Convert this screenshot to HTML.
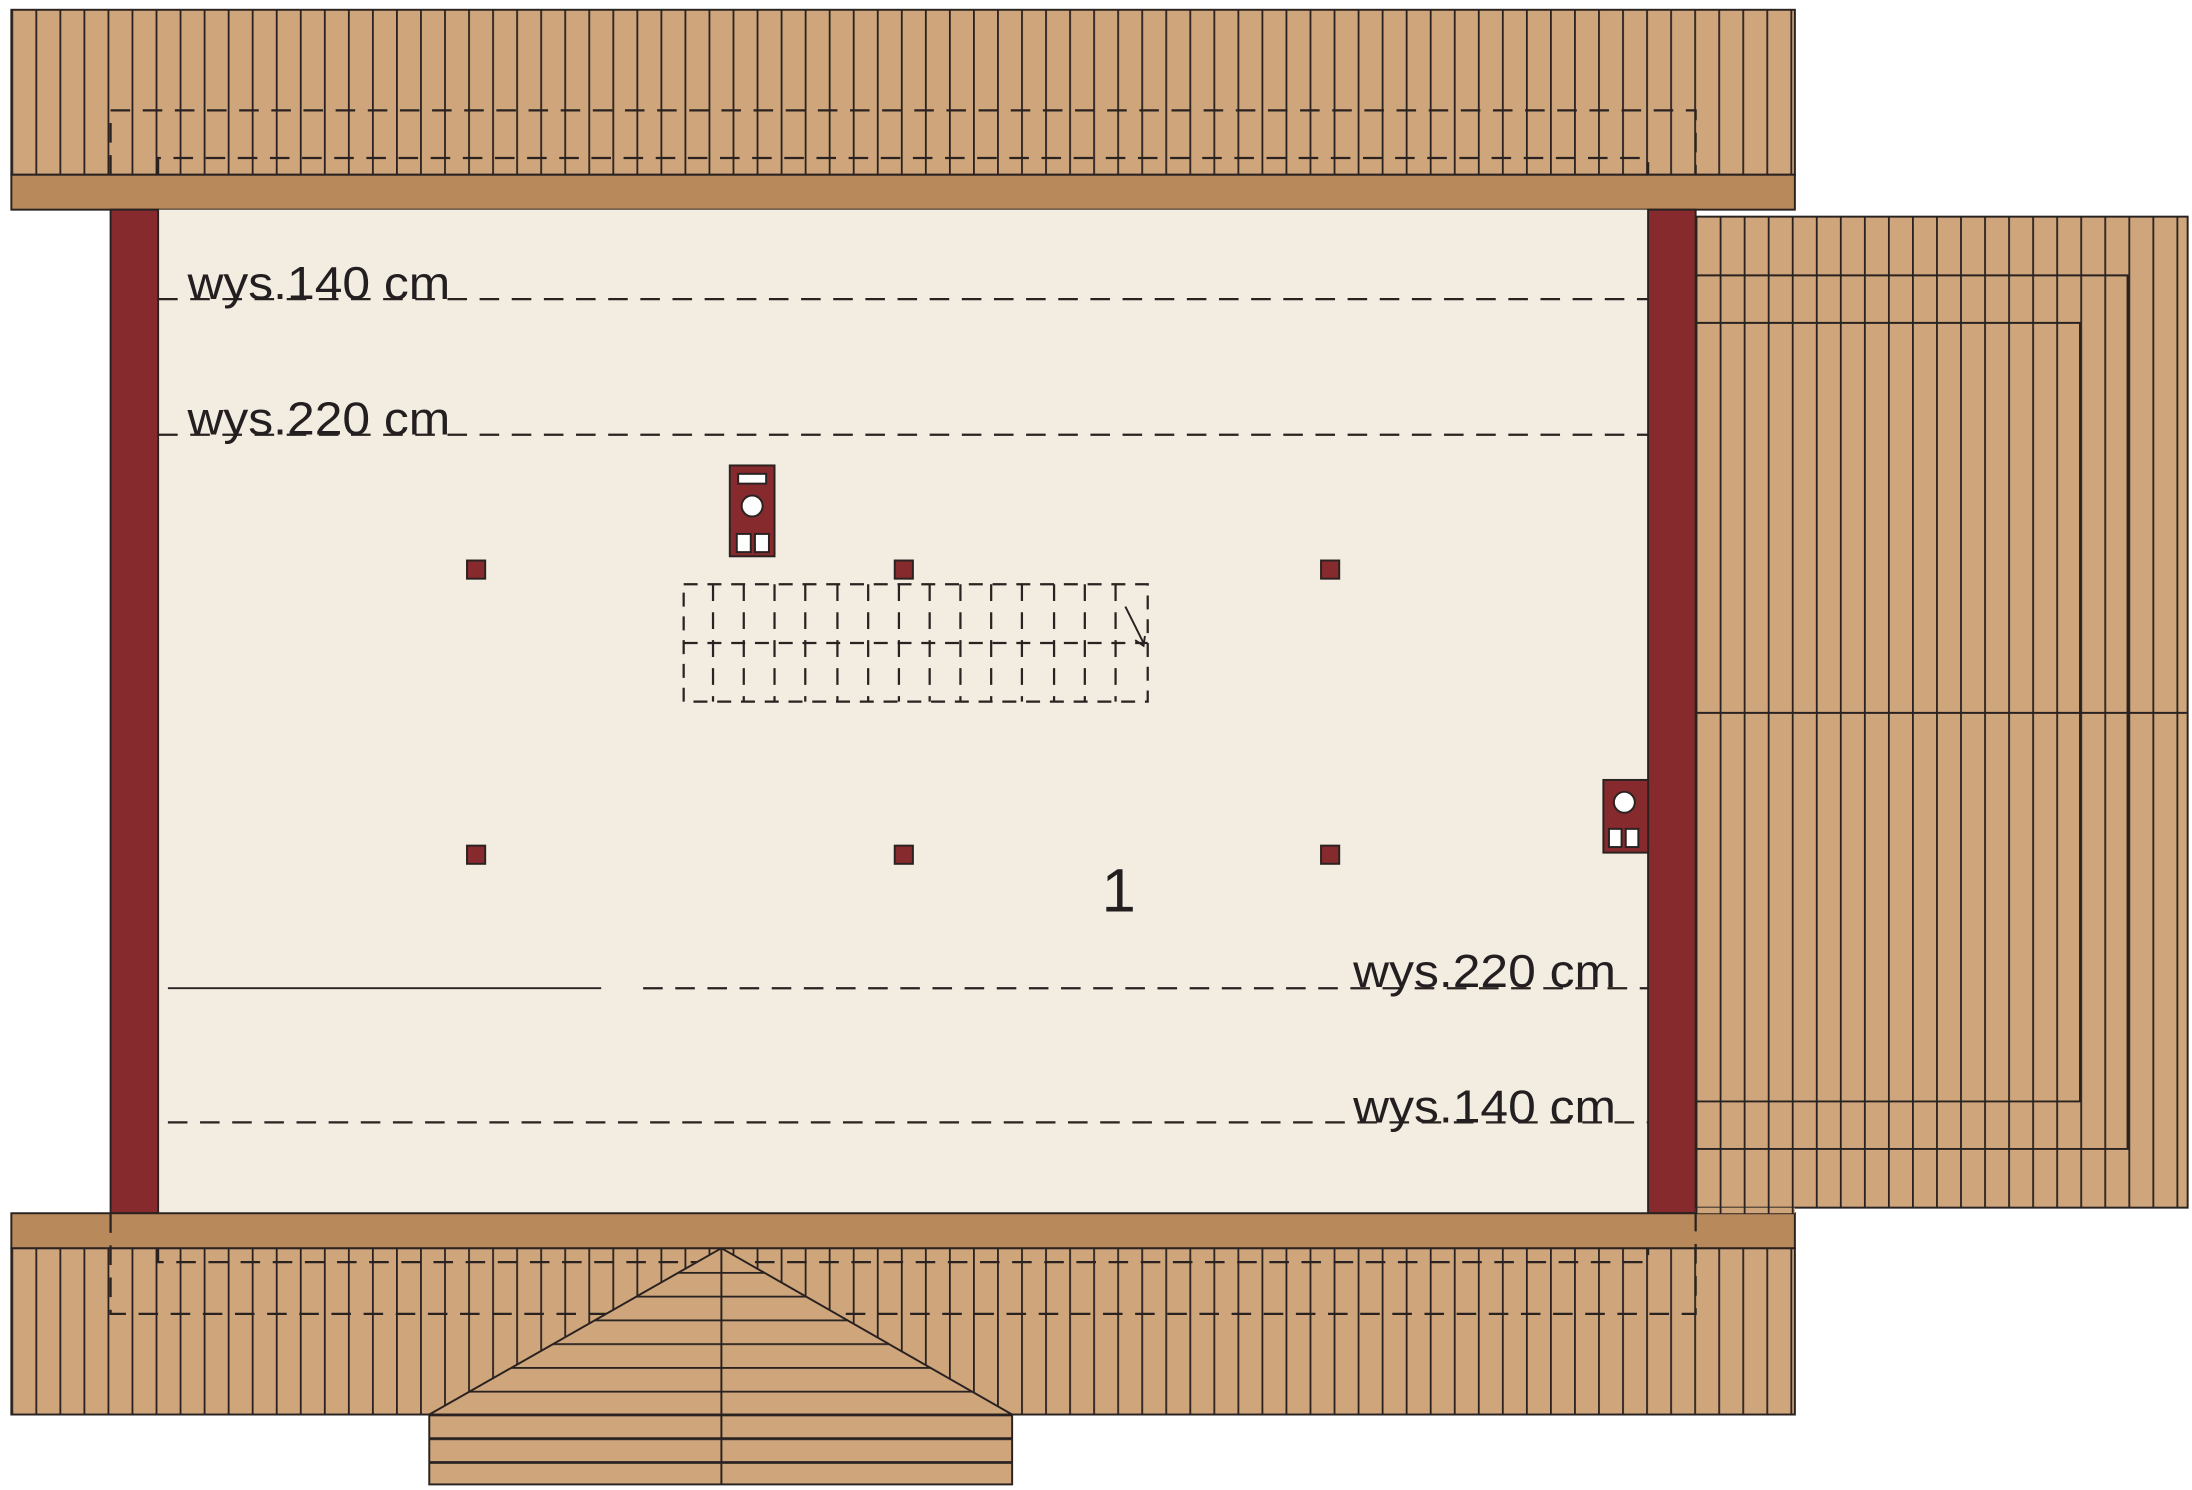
<!DOCTYPE html>
<html><head><meta charset="utf-8"><style>html,body{margin:0;padding:0;background:#fff}svg{display:block}</style></head><body>
<svg width="2192" height="1490" viewBox="0 0 1568 1066" xmlns="http://www.w3.org/2000/svg" font-family="Liberation Sans, sans-serif">
<defs>
<pattern id="vs" patternUnits="userSpaceOnUse" x="8" y="0" width="17.2" height="10"><rect width="17.2" height="10" fill="#cfa67c"/><line x1="0.6" y1="0" x2="0.6" y2="10" stroke="#2a2220" stroke-width="1.4"/></pattern>
<pattern id="vs2" patternUnits="userSpaceOnUse" x="1213" y="0" width="17.2" height="10"><rect width="17.2" height="10" fill="#cfa67c"/><line x1="0.6" y1="0" x2="0.6" y2="10" stroke="#2a2220" stroke-width="1.4"/></pattern>
<pattern id="hs" patternUnits="userSpaceOnUse" x="0" y="893" width="10" height="17"><rect width="10" height="17" fill="#cfa67c"/><line x1="0" y1="0.6" x2="10" y2="0.6" stroke="#2a2220" stroke-width="1.4"/></pattern>
</defs>
<g stroke="#2a2220" stroke-width="1.4">
<rect x="8" y="7" width="1276" height="118" fill="url(#vs)"/>
<rect x="8" y="125" width="1276" height="25" fill="#b8895a"/>
<rect x="1213" y="155" width="352" height="709" fill="url(#vs2)"/>
<line x1="1213" y1="510" x2="1565" y2="510"/>
<polyline points="1213,197 1522,197 1522,822 1213,822" fill="none"/>
<polyline points="1213,231 1488,231 1488,788 1213,788" fill="none"/>
<rect x="113" y="150" width="1066" height="718" fill="#f3ece1" stroke="none"/>
<rect x="79" y="150" width="34" height="718" fill="#862a2e"/>
<rect x="1179" y="150" width="34" height="718" fill="#862a2e"/>
<rect x="8" y="893" width="1276" height="119" fill="url(#vs)"/>
<rect x="8" y="868" width="1276" height="25" fill="#b8895a"/>
<rect x="1213" y="864" width="71" height="4" fill="url(#vs2)" stroke="none"/>
</g>
<g stroke="#2a2220" stroke-width="1.6" fill="none" stroke-dasharray="14,9">
<polyline points="79,125 79,79 1213,79 1213,125"/>
<polyline points="113,125 113,113 1179,113 1179,125"/>
<polyline points="113,893 113,903 1179,903 1179,893"/>
<polyline points="79,868 79,940 1213,940 1213,868"/>
<line x1="113" y1="214" x2="1179" y2="214"/>
<line x1="113" y1="311" x2="1179" y2="311"/>
<line x1="460" y1="707" x2="1179" y2="707"/>
<line x1="120" y1="803" x2="1179" y2="803"/>
</g>
<line x1="120" y1="707" x2="430" y2="707" stroke="#2a2220" stroke-width="1.4"/>
<g stroke="#2a2220" stroke-width="1.4">
<polygon points="516,893 724,1012 307,1012" fill="url(#hs)"/>
<rect x="307" y="1012" width="417" height="50" fill="url(#hs)"/>
<line x1="307" y1="1029" x2="724" y2="1029"/><line x1="307" y1="1046" x2="724" y2="1046"/>
<line x1="516" y1="893" x2="516" y2="1062"/>
</g>
<g font-size="33" fill="#231f20">
<text x="134" y="214" textLength="188" lengthAdjust="spacingAndGlyphs">wys.140 cm</text>
<text x="134" y="311" textLength="188" lengthAdjust="spacingAndGlyphs">wys.220 cm</text>
<text x="968" y="706" textLength="188" lengthAdjust="spacingAndGlyphs">wys.220 cm</text>
<text x="968" y="803" textLength="188" lengthAdjust="spacingAndGlyphs">wys.140 cm</text>
<text x="788" y="652" font-size="44">1</text>
</g>
<g stroke="#2a2220" stroke-width="1.4">
<rect x="522" y="333" width="32" height="65" fill="#862a2e"/>
<rect x="528" y="339" width="20" height="7" fill="#fff"/>
<circle cx="538" cy="362" r="7.5" fill="#fff"/>
<rect x="527" y="382" width="10" height="13" fill="#fff"/><rect x="540" y="382" width="10" height="13" fill="#fff"/>
<rect x="1147" y="558" width="32" height="52" fill="#862a2e"/>
<circle cx="1162" cy="574" r="7.5" fill="#fff"/>
<rect x="1151" y="593" width="9" height="13" fill="#fff"/><rect x="1163" y="593" width="9" height="13" fill="#fff"/>
<g fill="#862a2e">
<rect x="334" y="401" width="13" height="13"/><rect x="640" y="401" width="13" height="13"/><rect x="945" y="401" width="13" height="13"/>
<rect x="334" y="605" width="13" height="13"/><rect x="640" y="605" width="13" height="13"/><rect x="945" y="605" width="13" height="13"/>
</g>
</g>
<g stroke="#2a2220" stroke-width="1.6" fill="none" stroke-dasharray="10,7">
<rect x="489" y="418" width="332" height="84"/>
<line x1="489" y1="460" x2="821" y2="460"/>
<g stroke-dasharray="12,8">
<line x1="510" y1="418" x2="510" y2="502"/><line x1="532" y1="418" x2="532" y2="502"/><line x1="554" y1="418" x2="554" y2="502"/><line x1="576" y1="418" x2="576" y2="502"/><line x1="599" y1="418" x2="599" y2="502"/><line x1="621" y1="418" x2="621" y2="502"/><line x1="643" y1="418" x2="643" y2="502"/><line x1="665" y1="418" x2="665" y2="502"/><line x1="687" y1="418" x2="687" y2="502"/><line x1="709" y1="418" x2="709" y2="502"/><line x1="731" y1="418" x2="731" y2="502"/><line x1="754" y1="418" x2="754" y2="502"/><line x1="776" y1="418" x2="776" y2="502"/><line x1="798" y1="418" x2="798" y2="502"/>
</g>
</g>
<g stroke="#2a2220" stroke-width="1.4" fill="none"><line x1="805" y1="434" x2="818" y2="460"/><polyline points="812,458 818,462 819,455"/></g>
</svg>
</body></html>
